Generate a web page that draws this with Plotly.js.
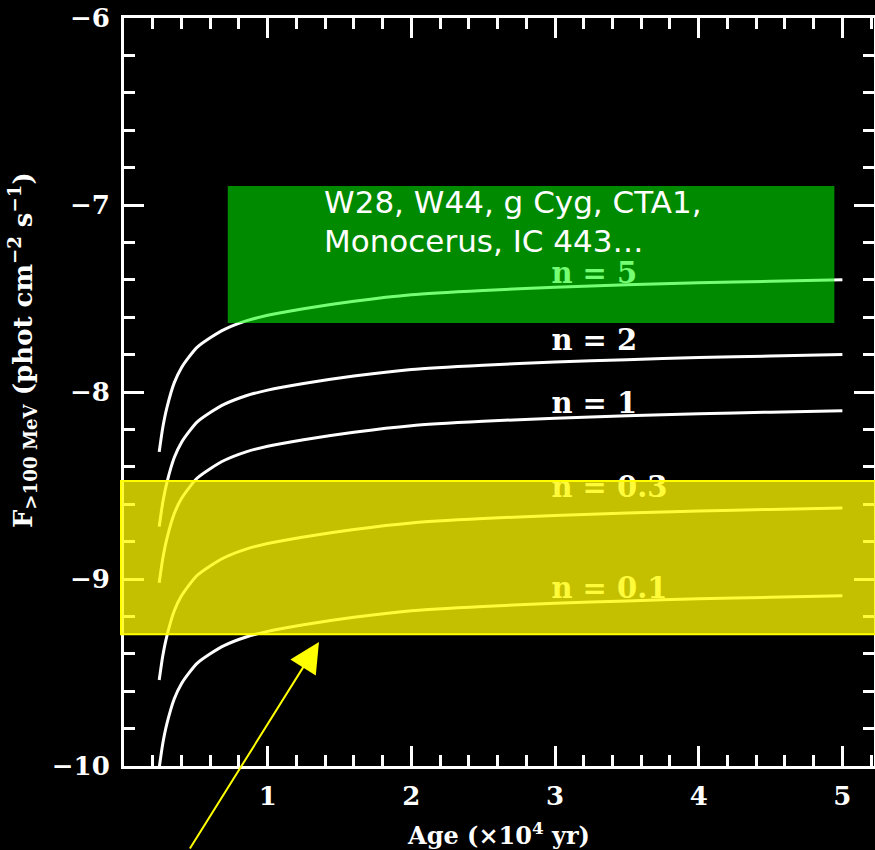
<!DOCTYPE html>
<html>
<head>
<meta charset="utf-8">
<script src="https://cdn.plot.ly/plotly-3.0.1.min.js"></script>
<style>
  html, body { margin: 0; padding: 0; background: #000; }
  #chart { width: 875px; height: 850px; }
</style>
</head>
<body>
<div id="chart"></div>
<script>
// ---- data ----
const age = [0.245, 0.27, 0.30, 0.35, 0.40, 0.45, 0.51, 0.60, 0.70, 0.85, 1.0, 1.25, 1.6, 2.0, 2.5, 3.0, 3.5, 4.0, 4.5, 5.0];
const fluxN5  = [-8.32, -8.19, -8.08, -7.95, -7.87, -7.815, -7.76, -7.71, -7.665, -7.62, -7.59, -7.555, -7.515, -7.48, -7.457, -7.44, -7.427, -7.416, -7.408, -7.40];
const fluxN2  = [-8.72, -8.59, -8.48, -8.35, -8.27, -8.215, -8.16, -8.11, -8.065, -8.02, -7.99, -7.955, -7.915, -7.88, -7.857, -7.84, -7.827, -7.816, -7.808, -7.80];
const fluxN1  = [-9.02, -8.89, -8.78, -8.65, -8.57, -8.515, -8.46, -8.41, -8.365, -8.32, -8.29, -8.255, -8.215, -8.18, -8.157, -8.14, -8.127, -8.116, -8.108, -8.10];
const fluxN03 = [-9.54, -9.41, -9.30, -9.17, -9.09, -9.035, -8.98, -8.93, -8.885, -8.84, -8.81, -8.775, -8.735, -8.70, -8.677, -8.66, -8.647, -8.636, -8.628, -8.62];
const fluxN01 = [-10.01, -9.88, -9.77, -9.64, -9.56, -9.505, -9.45, -9.40, -9.355, -9.31, -9.28, -9.245, -9.205, -9.17, -9.147, -9.13, -9.117, -9.106, -9.098, -9.09];
const seriesLabels = ['n = 5', 'n = 2', 'n = 1', 'n = 0.3', 'n = 0.1'];
const xTickVals = [1, 2, 3, 4, 5];
const yTickVals = [-10, -9, -8, -7, -6];
const sourceLines = ['W28, W44, g Cyg, CTA1,', 'Monocerus, IC 443\u2026'];

// ---- layout helpers (positions) ----
const labelPosX = [2.975, 2.975, 2.975, 2.975, 2.975];
const labelPosY = [-7.38, -7.735, -8.075, -8.525, -9.065];

const serif = 'DejaVu Serif';
const allFlux = [fluxN5, fluxN2, fluxN1, fluxN03, fluxN01];

const traces = allFlux.map((f, i) => ({
  type: 'scatter', mode: 'lines', x: age, y: f,
  name: seriesLabels[i],
  line: { color: '#ffffff', width: 3, shape: 'spline', smoothing: 0.6 },
  hoverinfo: 'skip'
}));

traces.push({
  type: 'scatter', mode: 'text',
  x: labelPosX, y: labelPosY, text: seriesLabels,
  textposition: 'middle right',
  textfont: { family: serif, size: 29, color: '#ffffff', weight: 'bold' },
  hoverinfo: 'skip', showlegend: false
});

const axisCommon = {
  showgrid: false, zeroline: false,
  showline: true, linecolor: '#ffffff', linewidth: 3,
  mirror: 'ticks',
  ticks: 'inside', ticklen: 20, tickwidth: 3, tickcolor: '#ffffff',
  tickfont: { family: serif, size: 26, color: '#ffffff', weight: 'bold' },
  minor: { dtick: 0.2, tick0: 0, ticks: 'inside', ticklen: 11, tickwidth: 3, tickcolor: '#ffffff' }
};

const layout = {
  width: 875, height: 850,
  paper_bgcolor: '#000000', plot_bgcolor: '#000000',
  margin: { l: 124, r: 1, t: 18, b: 84 },
  showlegend: false,
  xaxis: Object.assign({}, axisCommon, {
    range: [0, 5.22], tickmode: 'array', tickvals: xTickVals,
    ticklabelstandoff: 5,
    title: { text: 'Age (\u00d710<sup>4</sup> yr)', font: { family: serif, size: 24, color: '#ffffff', weight: 'bold' }, standoff: 19 }
  }),
  yaxis: Object.assign({}, axisCommon, {
    range: [-10, -6], tickmode: 'array', tickvals: yTickVals,
    ticklabelstandoff: 6
  }),
  shapes: [
    { type: 'rect', layer: 'above', xref: 'x', yref: 'y',
      x0: 0.722, x1: 4.944, y0: -6.898, y1: -7.631,
      fillcolor: 'rgba(0,255,0,0.54)', line: { width: 0 } },
    { type: 'rect', layer: 'above', xref: 'paper', yref: 'paper',
      x0: -0.004, x1: 1.01, y0: 0.381, y1: 0.176,
      fillcolor: 'rgba(255,250,0,0.77)', line: { color: '#ffff00', width: 2 } }
  ],
  annotations: [
    { xref: 'paper', yref: 'paper', x: -0.136, y: 0.556, textangle: -90,
      xanchor: 'center', yanchor: 'middle', showarrow: false,
      text: 'F<sub>&gt;100 MeV</sub> (phot cm<sup>\u22122</sup> s<sup>\u22121</sup>)',
      font: { family: serif, size: 26, color: '#ffffff', weight: 'bold' } },
    { xref: 'x', yref: 'y', x: 1.375, y: -6.984, xanchor: 'left', yanchor: 'middle',
      showarrow: false, text: sourceLines[0],
      font: { family: 'DejaVu Sans', size: 31, color: '#ffffff' } },
    { xref: 'x', yref: 'y', x: 1.375, y: -7.193, xanchor: 'left', yanchor: 'middle',
      showarrow: false, text: sourceLines[1],
      font: { family: 'DejaVu Sans', size: 31, color: '#ffffff' } },
    { xref: 'x', yref: 'y', x: 1.357, y: -9.337, axref: 'pixel', ayref: 'pixel',
      ax: -130, ay: 229, text: '', showarrow: true,
      arrowhead: 2, arrowsize: 3, arrowwidth: 2, arrowcolor: '#ffff00', standoff: 0 }
  ]
};

Plotly.newPlot('chart', traces, layout, { staticPlot: true, displayModeBar: false });
</script>
</body>
</html>
